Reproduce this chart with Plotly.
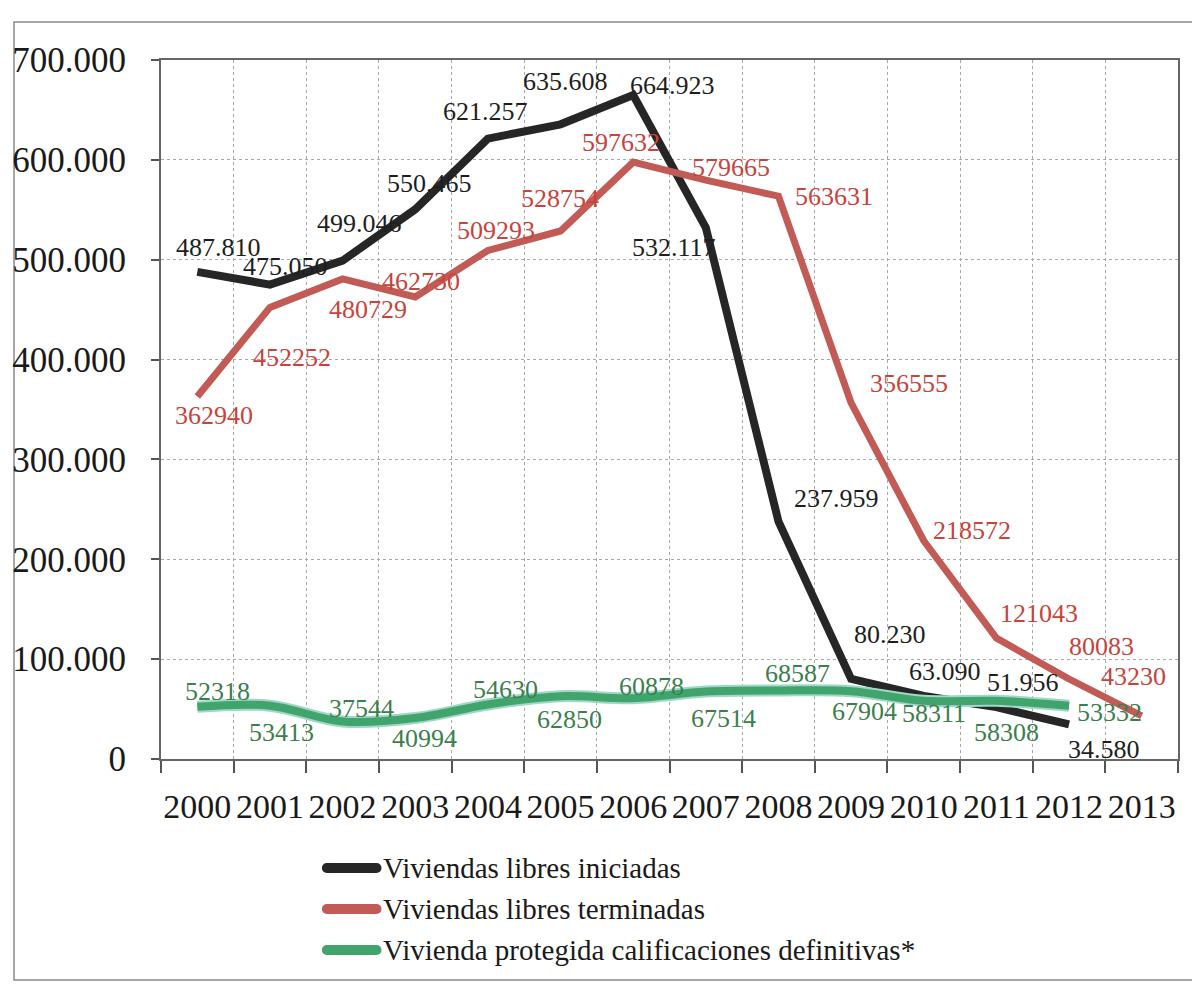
import plotly.graph_objects as go

# ---------------- data ----------------
years = ["2000", "2001", "2002", "2003", "2004", "2005", "2006",
         "2007", "2008", "2009", "2010", "2011", "2012", "2013"]
iniciadas = [487810, 475050, 499046, 550465, 621257, 635608, 664923,
             532117, 237959, 80230, 63090, 51956, 34580]
terminadas = [362940, 452252, 480729, 462730, 509293, 528754, 597632,
              579665, 563631, 356555, 218572, 121043, 80083, 43230]
protegida = [52318, 53413, 37544, 40994, 54630, 62850, 60878,
             67514, 68587, 67904, 58311, 58308, 53332]
series_names = ["Viviendas libres iniciadas",
                "Viviendas libres terminadas",
                "Vivienda protegida calificaciones definitivas*"]
y_tickvals = [0, 100000, 200000, 300000, 400000, 500000, 600000, 700000]
y_ticktext = ["0", "100.000", "200.000", "300.000", "400.000",
              "500.000", "600.000", "700.000"]

# ---------------- styles ----------------
FONT = "Liberation Serif"
C_BLACK, C_RED, C_GREEN = "#262626", "#c25b56", "#40a46c"
T_BLACK, T_RED, T_GREEN = "#1e1e1e", "#c8433b", "#3c7f4e"

# label offsets in pixels (dx right, dy down) relative to each point
off_black = [(21, -24), (16, -18), (17, -37), (14, -26), (-2, -27), (5, -43),
             (39, -10), (-32, 20), (58, -23), (39, -44), (21, -25), (27, -25),
             (35, 25)]
off_red = [(17, 19), (22, 50), (25, 31), (6, -15), (8, -20), (-1, -33),
           (-12, -20), (25, -13), (56, 0), (58, -19), (48, -10), (43, -25),
           (32, -33), (-8, -39)]
off_green = [(20, -15), (12, 27), (19, -13), (9, 20), (18, -15), (9, 23),
             (18, -12), (18, 27), (19, -17), (13, 20), (10, 13), (10, 32),
             (40, 7)]

W, H = 1192, 987
ML, MR, MT, MB = 156, 12, 60, 228
PW, PH = W - ML - MR, H - MT - MB


def px_x(p):
    return (p - ML) / PW


def px_y(p):
    return (MT + PH - p) / PH


fig = go.Figure()
fig.add_trace(go.Scatter(x=years[:len(iniciadas)], y=iniciadas, mode="lines",
                         line=dict(color=C_BLACK, width=8),
                         name=series_names[0], hoverinfo="x+y"))
fig.add_trace(go.Scatter(x=years[:len(terminadas)], y=terminadas, mode="lines",
                         line=dict(color=C_RED, width=7),
                         name=series_names[1], hoverinfo="x+y"))
fig.add_trace(go.Scatter(x=years[:len(protegida)], y=protegida, mode="lines",
                         line=dict(color="#9fd8c8", width=12, shape="spline", smoothing=1),
                         name=series_names[2], hoverinfo="skip"))
fig.add_trace(go.Scatter(x=years[:len(protegida)], y=protegida, mode="lines",
                         line=dict(color=C_GREEN, width=8, shape="spline", smoothing=1),
                         name=series_names[2], hoverinfo="x+y"))

annotations = []


def add_labels(vals, offs, color, fmt):
    for i, v in enumerate(vals):
        dx, dy = offs[i]
        annotations.append(dict(
            x=i, y=v, xref="x", yref="y", text=fmt(v), showarrow=False,
            xshift=dx, yshift=-dy, xanchor="center", yanchor="middle",
            font=dict(family=FONT, size=26, color=color)))


add_labels(iniciadas, off_black, T_BLACK, lambda v: f"{v:,}".replace(",", "."))
add_labels(terminadas, off_red, T_RED, lambda v: str(v))
add_labels(protegida, off_green, T_GREEN, lambda v: str(v))

# custom legend (thick line samples with round ends)
shapes = []
leg_colors = [C_BLACK, C_RED, C_GREEN]
leg_y_px = [868, 909, 950]
leg_x0, leg_x1 = 323, 373
for name, col, ypx in zip(series_names, leg_colors, leg_y_px):
    yp = px_y(ypx)
    shapes.append(dict(type="line", xref="paper", yref="paper",
                       x0=px_x(leg_x0), x1=px_x(leg_x1), y0=yp, y1=yp,
                       line=dict(color=col, width=10)))
    for cx in (leg_x0, leg_x1):
        shapes.append(dict(type="circle", xref="paper", yref="paper",
                           xsizemode="pixel", ysizemode="pixel",
                           xanchor=px_x(cx), yanchor=yp,
                           x0=-5, x1=5, y0=-5, y1=5,
                           fillcolor=col, line=dict(width=0)))
    annotations.append(dict(x=px_x(leg_x1 + 5), y=yp, xref="paper", yref="paper",
                            text=name, showarrow=False, xanchor="left", yanchor="middle",
                            font=dict(family=FONT, size=29, color="#1a1a1a")))

# outer border of the scanned chart
shapes.append(dict(type="rect", xref="paper", yref="paper",
                   x0=px_x(8), x1=px_x(W + 20), y0=px_y(980), y1=px_y(22),
                   line=dict(color="#8a8a8a", width=1.5), fillcolor="rgba(0,0,0,0)",
                   layer="below"))

fig.update_layout(
    width=W, height=H,
    margin=dict(l=ML, r=MR, t=MT, b=MB, pad=0),
    paper_bgcolor="white", plot_bgcolor="white",
    showlegend=False,
    font=dict(family=FONT, color="#1a1a1a"),
    annotations=annotations, shapes=shapes,
)
fig.update_xaxes(type="category", categoryorder="array", categoryarray=years,
                 range=[-0.5, len(years) - 0.5],
                 tickson="boundaries", ticks="outside", ticklen=12, tickwidth=1.5,
                 tickcolor="#555", showgrid=True, gridcolor="#a8a8a8", griddash="dot",
                 gridwidth=1, showline=True, linecolor="#666", linewidth=2, mirror=True,
                 tickangle=0,
                 tickfont=dict(family=FONT, size=34, color="#1a1a1a"),
                 ticklabelstandoff=16)
fig.update_yaxes(range=[0, 700000], tickmode="array", tickvals=y_tickvals,
                 ticktext=y_ticktext, ticks="outside", ticklen=8, tickwidth=1.5,
                 tickcolor="#555", showgrid=True, gridcolor="#a8a8a8", griddash="dot",
                 gridwidth=1, showline=True, linecolor="#666", linewidth=2, mirror=True,
                 zeroline=False,
                 tickfont=dict(family=FONT, size=35, color="#1a1a1a"),
                 ticklabelstandoff=18)

fig.write_html("out.html")
